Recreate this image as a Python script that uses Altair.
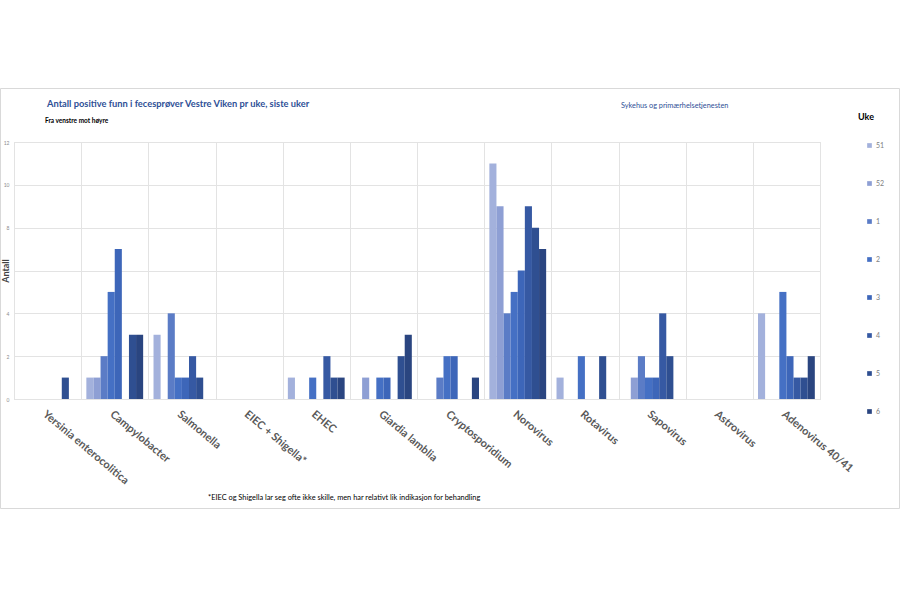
import altair as alt
import pandas as pd

categories = ["Yersinia enterocolitica", "Campylobacter", "Salmonella", "EIEC + Shigella*",
              "EHEC", "Giardia lamblia", "Cryptosporidium", "Norovirus", "Rotavirus",
              "Sapovirus", "Astrovirus", "Adenovirus 40/41"]
weeks = ["51", "52", "1", "2", "3", "4", "5", "6"]

uke_51 = [0, 1, 3, 0, 1, 0, 0, 11, 1, 0, 0, 4]
uke_52 = [0, 1, 0, 0, 0, 1, 0, 9, 0, 1, 0, 0]
uke_1 = [0, 2, 4, 0, 0, 0, 1, 4, 0, 2, 0, 0]
uke_2 = [0, 5, 1, 0, 1, 1, 2, 5, 2, 1, 0, 5]
uke_3 = [0, 7, 1, 0, 0, 1, 2, 6, 0, 1, 0, 2]
uke_4 = [0, 0, 2, 0, 2, 0, 0, 9, 0, 4, 0, 1]
uke_5 = [1, 3, 1, 0, 1, 2, 0, 8, 2, 2, 0, 1]
uke_6 = [0, 3, 0, 0, 1, 3, 1, 7, 0, 0, 0, 2]

week_colors = ["#a3b1dc", "#8e9fd4", "#5b7cc6", "#4570c4", "#3d66b9", "#3659a3", "#2f4f91", "#2a4580"]

title_text = "Antall positive funn i fecesprøver Vestre Viken pr uke, siste uker"
subtitle_text = "Fra venstre mot høyre"
right_text = "Sykehus og primærhelsetjenesten"
legend_title = "Uke"
footnote = "*EIEC og Shigella lar seg ofte ikke skille, men har relativt lik indikasjon for behandling"

series = dict(zip(weeks, [uke_51, uke_52, uke_1, uke_2, uke_3, uke_4, uke_5, uke_6]))
rows = []
for w in weeks:
    for c, v in zip(categories, series[w]):
        rows.append({"Patogen": c, "Uke": w, "Antall": v})
df = pd.DataFrame(rows)

W, H = 806, 257
FONT = "Lato"

bars = alt.Chart(df).mark_bar().encode(
    x=alt.X("Patogen:N", sort=categories,
            scale=alt.Scale(paddingInner=0, paddingOuter=0),
            axis=alt.Axis(title=None, labelAngle=40, labelAlign="left", labelBaseline="top",
                          tickBand="extent", grid=True, gridColor="#e3e3e3", domain=False,
                          ticks=False, labelFont=FONT, labelFontSize=11, labelColor="#595959",
                          labelPadding=9, labelFontWeight="bold")),
    xOffset=alt.XOffset("Uke:N", sort=weeks,
                        scale=alt.Scale(paddingInner=0, paddingOuter=0.73)),
    y=alt.Y("Antall:Q", scale=alt.Scale(domain=[0, 12]),
            axis=alt.Axis(values=[0, 2, 4, 6, 8, 10, 12], title="Antall", grid=True,
                          gridColor="#e3e3e3", domain=False, ticks=False,
                          labelFont=FONT, labelFontSize=5, labelColor="#8c8c8c",
                          labelPadding=5, titleFont=FONT, titleFontSize=9,
                          titleFontWeight="bold", titleColor="#404040",
                          titleX=-4, titleY=H / 2, titleAngle=270)),
    color=alt.Color("Uke:N", sort=weeks,
                    scale=alt.Scale(domain=weeks, range=week_colors),
                    legend=alt.Legend(title=None, orient="none", legendX=852, legendY=0,
                                      symbolType="square", symbolSize=22,
                                      symbolStrokeWidth=0, labelFont=FONT,
                                      labelFontSize=7, labelColor="#808080",
                                      rowPadding=30, labelOffset=3)),
)

frame = alt.Chart(pd.DataFrame({"a": [0]})).mark_rect(
    fillOpacity=0, stroke="#d9d9d9", strokeWidth=1
).encode(x=alt.value(-13.5), x2=alt.value(885.5), y=alt.value(-53.5), y2=alt.value(366.5))


def label(text, x, y, size, color, weight="normal", align="left"):
    return alt.Chart(pd.DataFrame({"t": [text]})).mark_text(
        font=FONT, fontSize=size, color=color, fontWeight=weight, align=align,
        baseline="alphabetic"
    ).encode(text="t:N", x=alt.value(x), y=alt.value(y))


texts = [
    label(title_text, 33, -35, 9.3, "#2e4f96", "bold"),
    label(subtitle_text, 31, -19, 6.5, "#000000", "bold"),
    label(right_text, 607, -34, 7.3, "#2e4f96"),
    label(legend_title, 844, -22, 9, "#000000", "bold"),
    label(footnote, 194, 358, 7.4, "#000000"),
]

chart = alt.layer(frame, bars, *texts).properties(
    width=W, height=H,
    padding={"left": 14, "top": 142, "right": 80, "bottom": 201},
    autosize=alt.AutoSizeParams(type="none"),
).configure_view(stroke="#e3e3e3").configure(background="white")

chart.save("out.html", embed_options={"renderer": "svg", "actions": False})
